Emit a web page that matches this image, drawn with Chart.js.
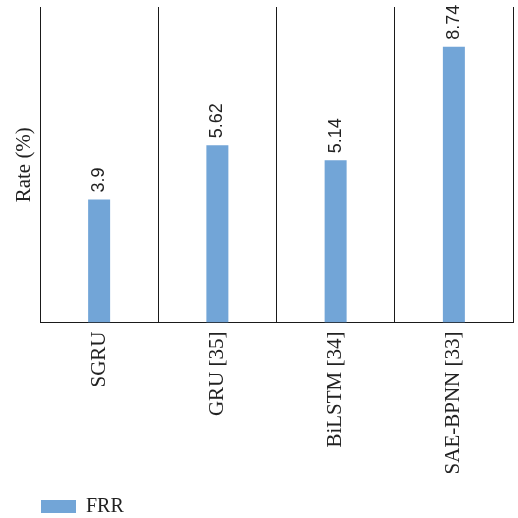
<!DOCTYPE html>
<html>
<head>
<meta charset="utf-8">
<script src="https://cdn.jsdelivr.net/npm/chart.js@4/dist/chart.umd.min.js"></script>
<style>
  html, body { margin: 0; padding: 0; background: #fff; }
  canvas { display: block; }
</style>
</head>
<body>
<canvas id="c" width="518" height="518"></canvas>
<script>
const categories = ['SGRU', 'GRU [35]', 'BiLSTM [34]', 'SAE-BPNN [33]'];
const frrValues = [3.9, 5.62, 5.14, 8.74];
const seriesName = 'FRR';
const axisTitle = 'Rate (%)';

const serif = "'Liberation Serif', 'Times New Roman', serif";
const sans = "'Liberation Sans', Arial, sans-serif";
const ink = '#222';
const lineInk = '#1a1a1a';

// Writes each bar's value vertically just above the bar top.
const valueLabels = {
  id: 'valueLabels',
  afterDatasetsDraw(chart) {
    const { ctx } = chart;
    chart.data.datasets.forEach((ds, di) => {
      const meta = chart.getDatasetMeta(di);
      meta.data.forEach((bar, i) => {
        ctx.save();
        ctx.translate(bar.x, bar.y - 7);
        ctx.rotate(-Math.PI / 2);
        ctx.font = '18px ' + sans;
        ctx.fillStyle = ink;
        ctx.textAlign = 'left';
        ctx.textBaseline = 'middle';
        ctx.fillText(String(ds.data[i]), 0, 0);
        ctx.restore();
      });
    });
  }
};

new Chart(document.getElementById('c'), {
  type: 'bar',
  data: {
    labels: categories,
    datasets: [{
      label: seriesName,
      data: frrValues,
      backgroundColor: '#72A5D7',
      borderWidth: 0,
      categoryPercentage: 1,
      barPercentage: 0.186
    }]
  },
  options: {
    responsive: false,
    animation: false,
    layout: { padding: { left: 37, right: 5, top: 7, bottom: -8.5 } },
    plugins: {
      tooltip: { enabled: false },
      legend: {
        position: 'bottom',
        align: 'start',
        labels: {
          boxWidth: 35,
          boxHeight: 13,
          padding: 4,
          color: ink,
          font: { family: serif, size: 20 }
        }
      }
    },
    scales: {
      x: {
        offset: true,
        grid: { offset: true, color: lineInk, lineWidth: 1, drawTicks: false },
        border: { display: true, color: lineInk, width: 1 },
        ticks: {
          minRotation: 90,
          maxRotation: 90,
          padding: 9,
          color: ink,
          font: { family: serif, size: 21 }
        },
        afterFit(s) { s.height = 170; }
      },
      y: {
        min: 0,
        max: 10,
        grid: { display: false },
        border: { display: true, color: lineInk, width: 1 },
        ticks: { display: false },
        title: {
          display: true,
          text: axisTitle,
          color: ink,
          padding: { top: -25, bottom: 0 },
          font: { family: serif, size: 21 }
        },
        afterFit(s) { s.width = 3; }
      }
    }
  },
  plugins: [valueLabels]
});
</script>
</body>
</html>
